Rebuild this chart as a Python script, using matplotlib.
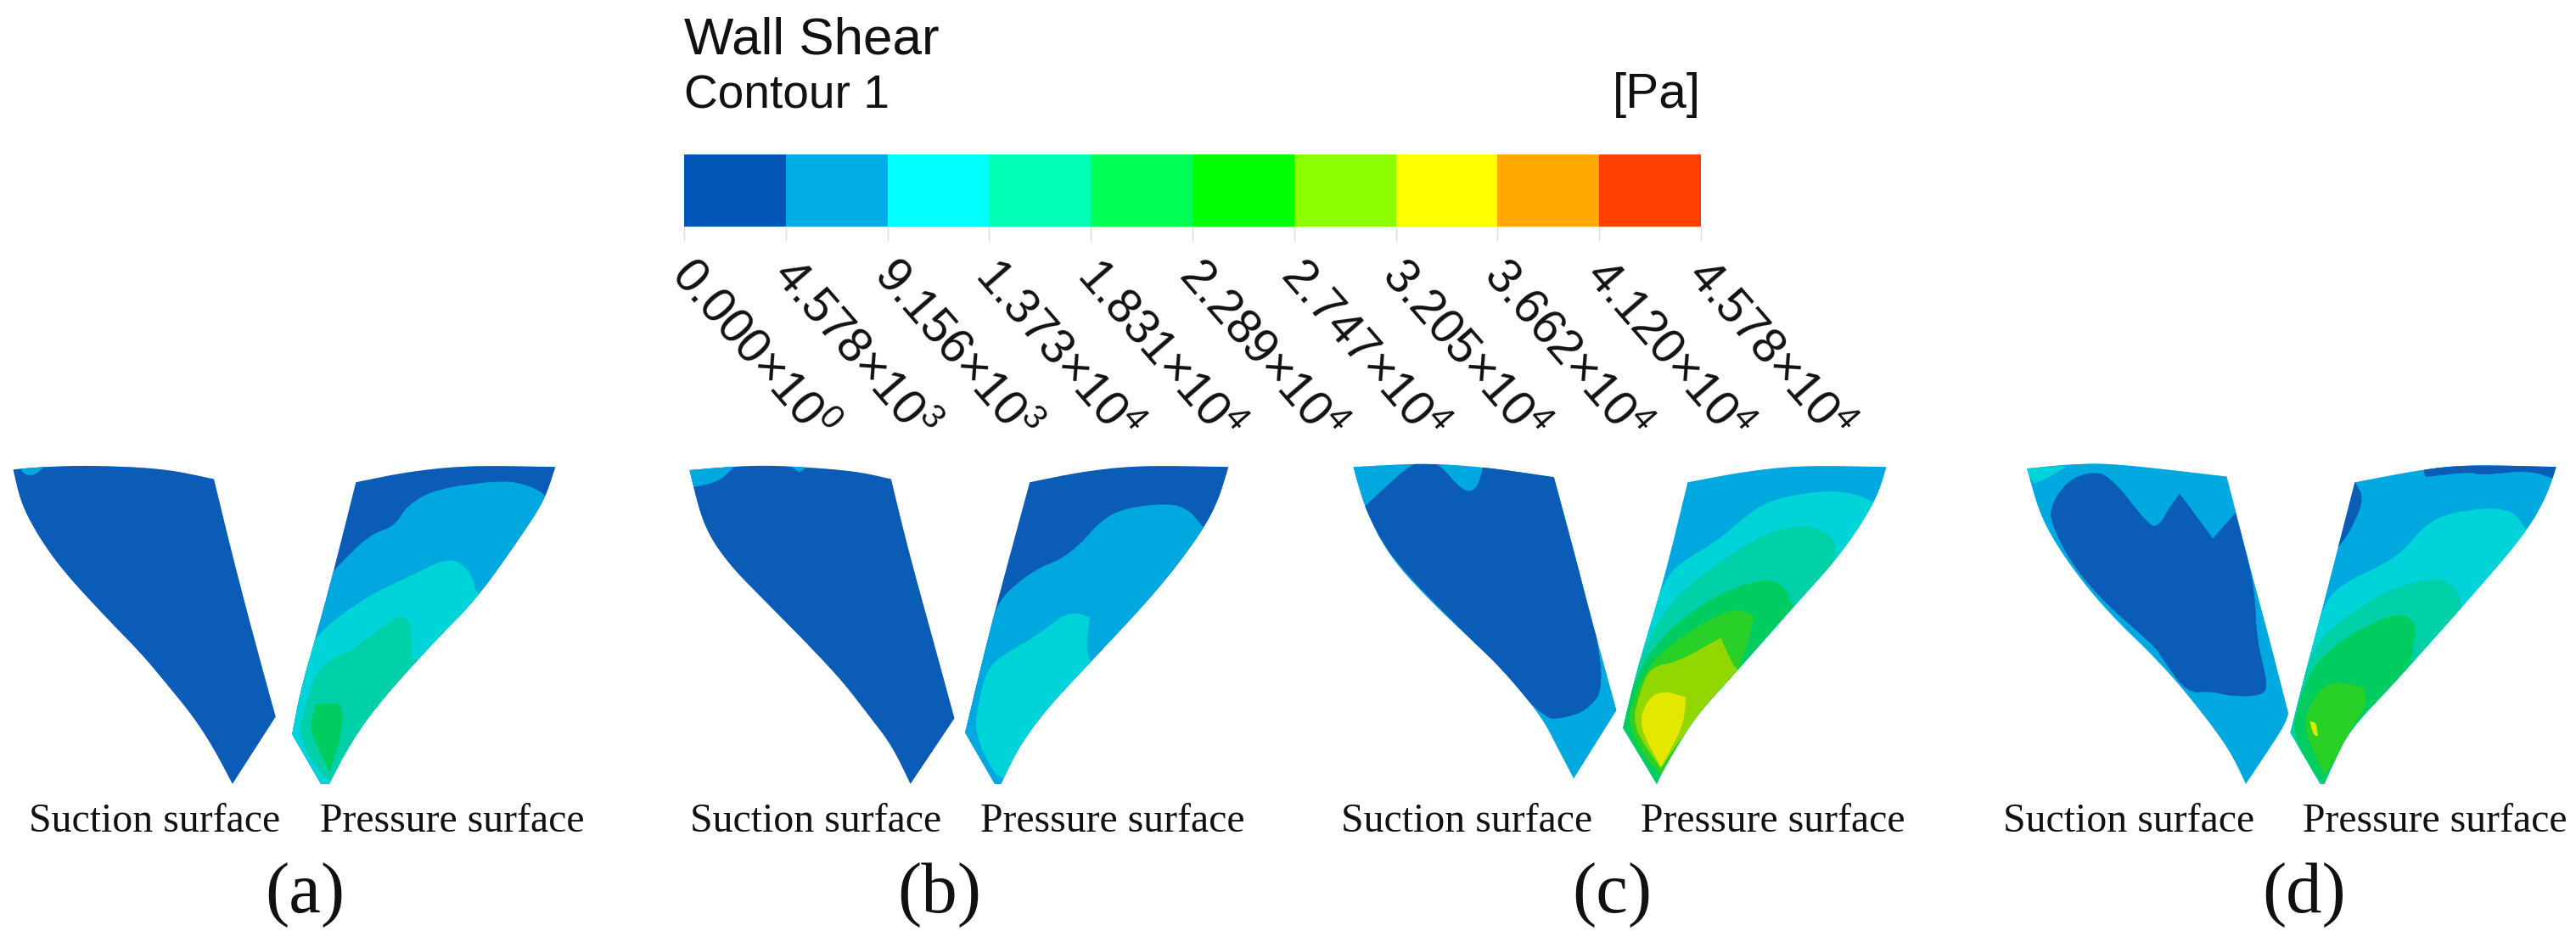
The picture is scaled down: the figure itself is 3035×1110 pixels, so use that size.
import numpy as np
import matplotlib
matplotlib.use("Agg")
import matplotlib.pyplot as plt
from matplotlib.patches import Polygon
from matplotlib.transforms import ScaledTranslation

plt.rcParams["font.family"] = ["Liberation Sans", "DejaVu Sans"]
plt.rcParams["mathtext.fontset"] = "custom"
plt.rcParams["mathtext.rm"] = "Liberation Sans"
plt.rcParams["mathtext.default"] = "rm"

# legend
legend_mantissa = ["0.000", "4.578", "9.156", "1.373", "1.831", "2.289",
                   "2.747", "3.205", "3.662", "4.120", "4.578"]
legend_exponent = [0, 3, 3, 4, 4, 4, 4, 4, 4, 4, 4]
legend_colors = ["#0055b5", "#00aee6", "#00ffff", "#00ffb4", "#00ff55",
                 "#00ff00", "#8cff00", "#ffff00", "#ffaa00", "#ff4000"]

# the same bands as they look on the blades (more muted than the legend)
surface_colors = ["#0b5cb6", "#00a8e0", "#00d4d8", "#00d0a8", "#00cc60",
                  "#28d028", "#92d800", "#e4e800"]

panel_names = ["(a)", "(b)", "(c)", "(d)"]
panel_label_x = [359, 1107, 1899, 2715]
suction_label_x = [34, 813, 1580, 2360]
pressure_label_x = [377, 1155, 1933, 2713]

# contour outlines were read from crops of each panel
# crop origin x and x stretch of the crop, y is the same for all
crop_x0 = [0, 760, 1540, 2300]
crop_sx = [2.063, 2.063, 2.063, 2.133]
crop_y0 = 520
crop_sy = 2.65

a_suction = [(32, 88), (100, 80), (220, 75), (400, 85), (520, 118), (560, 330), (600, 530),
             (640, 720), (670, 860), (565, 1070), (520, 960), (470, 860), (400, 750),
             (345, 665), (250, 540), (150, 400), (90, 290), (50, 190)]
a_suction_bands = [
    (0, a_suction),
    (1, [(50, 85), (105, 80), (85, 105), (62, 105)]),
]
a_pressure = [(865, 128), (990, 95), (1140, 75), (1350, 80), (1325, 180), (1270, 290),
              (1160, 490), (1060, 620), (960, 760), (890, 870), (840, 970), (800, 1070),
              (780, 1070), (710, 915), (730, 780), (770, 600), (810, 410)]
a_pressure_bands = [
    (0, a_pressure),
    (1, [(800, 420), (860, 340), (905, 290), (960, 265), (990, 200), (1060, 150), (1200, 125),
         (1270, 130), (1340, 175), (1400, 400), (1400, 1100), (700, 1100), (700, 600)]),
    (2, [(760, 630), (800, 570), (900, 480), (1000, 420), (1095, 360), (1145, 410), (1160, 490),
         (1300, 600), (1000, 1100), (680, 1100), (680, 700)]),
    (3, [(775, 700), (860, 650), (920, 590), (975, 545), (1000, 570), (1000, 680), (1100, 700),
         (1000, 1100), (810, 1060), (785, 1050), (725, 920), (745, 820)]),
    (4, [(770, 820), (825, 820), (835, 860), (820, 960), (800, 1030), (760, 920), (755, 880)]),
]

b_suction = [(108, 90), (220, 78), (320, 75), (510, 92), (598, 118), (640, 340), (700, 620),
             (752, 865), (645, 1070), (600, 950), (540, 850), (480, 750), (400, 640),
             (300, 510), (200, 380), (140, 260)]
b_suction_bands = [
    (0, b_suction),
    (1, [(100, 85), (215, 80), (180, 125), (120, 142)]),
    (1, [(355, 78), (395, 78), (375, 96)]),
]
b_pressure = [(935, 128), (1060, 95), (1200, 75), (1418, 80), (1395, 180), (1355, 280),
              (1250, 460), (1075, 700), (980, 830), (910, 950), (865, 1070), (850, 1070),
              (778, 910), (800, 790), (850, 530)]
b_pressure_bands = [
    (0, b_pressure),
    (1, [(850, 530), (880, 470), (950, 400), (1010, 370), (1060, 320), (1100, 260), (1150, 215),
         (1250, 195), (1315, 205), (1360, 275), (1500, 500), (1000, 1100), (700, 1100), (760, 800)]),
    (2, [(835, 705), (880, 660), (950, 610), (1030, 530), (1080, 550), (1072, 630), (1080, 700),
         (1200, 800), (900, 1080), (865, 1045), (850, 1040), (800, 910), (815, 790)]),
]

c_suction = [(112, 80), (280, 68), (430, 80), (600, 112), (650, 350), (690, 550), (752, 840),
             (648, 1053), (610, 960), (570, 860), (480, 720), (400, 620), (300, 500),
             (200, 360), (140, 210)]
c_suction_bands = [
    (1, c_suction),
    (0, [(140, 205), (240, 85), (280, 60), (320, 70), (380, 160), (415, 150), (432, 60), (640, 80),
         (700, 300), (695, 550), (722, 770), (680, 840), (620, 865), (575, 865), (400, 620), (200, 360)]),
]
c_pressure = [(925, 128), (1060, 95), (1200, 75), (1408, 80), (1385, 180), (1300, 350),
              (1180, 520), (1050, 710), (950, 850), (900, 950), (860, 1040), (850, 1070),
              (768, 895), (800, 720), (870, 420)]
c_pressure_bands = [
    (1, c_pressure),
    (2, [(870, 425), (920, 370), (1000, 310), (1060, 240), (1130, 180), (1280, 150), (1380, 185),
         (1500, 300), (1000, 1100), (700, 1100), (750, 800)]),
    (3, [(810, 680), (840, 590), (900, 480), (1000, 380), (1060, 330), (1130, 280), (1220, 260),
         (1280, 300), (1285, 350), (1270, 400), (1300, 600), (1000, 1100), (700, 1100), (750, 900)]),
    (4, [(800, 740), (830, 670), (880, 590), (960, 510), (1050, 450), (1130, 430), (1170, 470),
         (1170, 510), (1300, 600), (1000, 1100), (700, 1100), (750, 900)]),
    (5, [(775, 890), (800, 780), (835, 695), (890, 630), (960, 570), (1040, 520), (1085, 545),
         (1075, 620), (1045, 710), (1000, 1100), (860, 1060)]),
    (6, [(835, 705), (900, 690), (1005, 615), (1035, 700), (1050, 720), (950, 860), (890, 960),
         (860, 1020), (790, 890), (810, 780)]),
    (7, [(830, 800), (870, 780), (920, 800), (915, 880), (880, 970), (860, 1015), (805, 885)]),
]

d_suction = [(188, 85), (290, 72), (400, 68), (690, 110), (750, 400), (800, 630), (845, 850),
             (835, 890), (738, 1070), (700, 970), (630, 850), (530, 700), (380, 520),
             (280, 360), (220, 230)]
d_suction_bands = [
    (1, d_suction),
    (2, [(185, 85), (285, 78), (240, 115), (205, 130)]),
    (0, [(245, 210), (285, 130), (340, 97), (395, 105), (495, 265), (520, 265), (545, 210),
         (572, 165), (655, 305), (712, 225), (745, 380), (760, 480), (765, 620), (795, 770),
         (770, 795), (700, 795), (650, 780), (590, 785), (530, 680), (510, 640), (380, 500),
         (300, 380), (255, 270)]),
]
d_pressure = [(1012, 128), (1180, 88), (1300, 73), (1518, 80), (1495, 170), (1440, 290),
              (1280, 520), (1100, 770), (1000, 900), (960, 1000), (935, 1070), (925, 1070),
              (850, 910), (880, 760), (935, 500)]
d_pressure_bands = [
    (1, d_pressure),
    (0, [(1012, 128), (1035, 180), (1000, 280), (970, 330), (1000, 100)]),
    (0, [(1185, 85), (1190, 110), (1300, 95), (1330, 105), (1450, 90), (1510, 115), (1525, 70), (1300, 60)]),
    (2, [(935, 500), (990, 440), (1060, 400), (1130, 350), (1190, 260), (1260, 220), (1400, 205),
         (1445, 280), (1500, 400), (1000, 1100), (800, 1100), (850, 800)]),
    (3, [(860, 850), (880, 740), (920, 620), (1000, 540), (1100, 460), (1220, 425), (1270, 460),
         (1280, 520), (1300, 700), (1000, 1100), (800, 1100)]),
    (4, [(855, 920), (870, 820), (900, 720), (950, 650), (1020, 590), (1120, 535), (1165, 565),
         (1160, 630), (1150, 720), (1000, 1100), (945, 1075), (925, 1065)]),
    (5, [(930, 770), (965, 750), (1035, 770), (1040, 830), (1000, 900), (960, 1000), (935, 1040),
         (880, 890), (905, 810)]),
    (7, [(900, 875), (915, 880), (918, 920), (908, 915)]),
]

suction_outlines = [a_suction, b_suction, c_suction, d_suction]
pressure_outlines = [a_pressure, b_pressure, c_pressure, d_pressure]
suction_bands = [a_suction_bands, b_suction_bands, c_suction_bands, d_suction_bands]
pressure_bands = [a_pressure_bands, b_pressure_bands, c_pressure_bands, d_pressure_bands]


def to_pixels(points, panel):
    points = np.array(points, dtype=float)
    points[:, 0] = crop_x0[panel] + points[:, 0] / crop_sx[panel]
    points[:, 1] = crop_y0 + points[:, 1] / crop_sy
    return points


def round_corners(points, sharp_angle, passes=3):
    # corner cutting, turns sharper than sharp_angle degrees stay as they are
    p = np.asarray(points, dtype=float)
    keep = None
    for _ in range(passes):
        prev, nxt = np.roll(p, 1, axis=0), np.roll(p, -1, axis=0)
        a1 = np.arctan2(*(p - prev).T[::-1])
        a2 = np.arctan2(*(nxt - p).T[::-1])
        turn = np.abs((a2 - a1 + np.pi) % (2 * np.pi) - np.pi)
        keep = np.degrees(turn) > sharp_angle
        out = []
        for i in range(len(p)):
            if keep[i]:
                out.append(p[i])
            else:
                out.append(0.75 * p[i] + 0.25 * prev[i])
                out.append(0.75 * p[i] + 0.25 * nxt[i])
        p = np.array(out)
    return p


def draw_surface(ax, outline, bands, panel):
    smooth_outline = round_corners(to_pixels(outline, panel), sharp_angle=30)
    clip = Polygon(smooth_outline, closed=True, transform=ax.transData)
    for level, points in bands:
        if points is outline:
            shape = smooth_outline
        else:
            shape = round_corners(to_pixels(points, panel), sharp_angle=70, passes=2)
        patch = Polygon(shape, closed=True, facecolor=surface_colors[level],
                        edgecolor=surface_colors[level], linewidth=0.5)
        ax.add_patch(patch)
        patch.set_clip_path(clip)


fig = plt.figure(figsize=(30.35, 11.1), dpi=100)
ax = fig.add_axes([0, 0, 1, 1])
ax.set_xlim(0, 3035)
ax.set_ylim(1110, 0)
ax.axis("off")

for i in range(4):
    draw_surface(ax, suction_outlines[i], suction_bands[i], i)
    draw_surface(ax, pressure_outlines[i], pressure_bands[i], i)
    ax.text(suction_label_x[i], 980, "Suction surface", family="Liberation Serif",
            fontsize=34.4, ha="left", va="baseline", color="#111111")
    ax.text(pressure_label_x[i], 980, "Pressure surface", family="Liberation Serif",
            fontsize=34.4, ha="left", va="baseline", color="#111111")
    ax.text(panel_label_x[i], 1075, panel_names[i], family="Liberation Serif",
            fontsize=61, ha="center", va="baseline", color="#111111")

ax.text(806, 64, "Wall Shear", fontsize=44.6, ha="left", va="baseline", color="#111111")
ax.text(806, 127, "Contour 1", fontsize=39.6, ha="left", va="baseline", color="#111111")
ax.text(2004, 127, "[Pa]", fontsize=42, ha="right", va="baseline", color="#111111")

# colour bar
cax = fig.add_axes([806 / 3035, 1 - 267 / 1110, 1198 / 3035, 85 / 1110])
cax.bar(np.arange(10), np.ones(10), width=1, align="edge", color=legend_colors)
cax.set_xlim(0, 10)
cax.set_ylim(0, 1)
cax.set_yticks([])
for side in cax.spines.values():
    side.set_visible(False)
tick_labels = [f"{m}×10$^{{{e}}}$" for m, e in zip(legend_mantissa, legend_exponent)]
cax.set_xticks(np.arange(11), tick_labels, rotation=-49, ha="left", va="center",
               rotation_mode="anchor", fontsize=41, color="#111111")
cax.tick_params(axis="x", length=12, width=1, color="#dddddd", pad=22)
shift = ScaledTranslation(-6 / 100, 0, fig.dpi_scale_trans)
for label in cax.get_xticklabels():
    label.set_transform(label.get_transform() + shift)

fig.savefig("out.png", dpi=100, facecolor="white")
